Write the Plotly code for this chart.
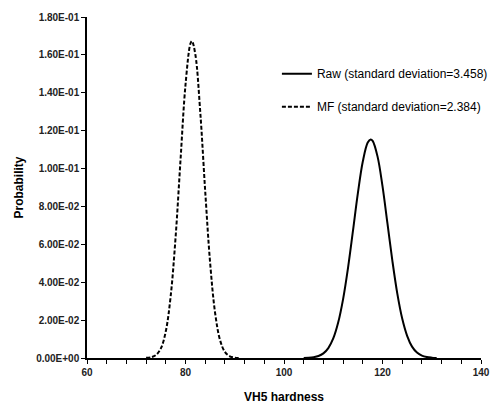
import plotly.graph_objects as go

# Raw curve
raw_x = [104, 105, 106, 107, 108, 109, 110, 111, 112, 113, 114, 115, 116, 117, 117.6,
         118, 119, 120, 121, 122, 123, 124, 125, 126, 127, 128, 129, 130, 131]
raw_y = [0.00005, 0.00015, 0.00042, 0.00105, 0.00245, 0.00523, 0.0103, 0.0187, 0.0311,
         0.0476, 0.0671, 0.0870, 0.1037, 0.1137, 0.1154, 0.1146, 0.1063, 0.0907, 0.0712,
         0.0514, 0.0341, 0.0208, 0.0117, 0.0060, 0.00287, 0.00125, 0.0005, 0.00019, 0.00006]

# MF curve
mf_x = [72, 73, 74, 75, 76, 77, 78, 79, 80, 81, 81.3, 82, 83, 84, 85, 86, 87, 88, 89, 90, 91]
mf_y = [0.00008, 0.00039, 0.00154, 0.00509, 0.0141, 0.0329, 0.0642, 0.1050, 0.1442, 0.1660,
        0.1673, 0.1602, 0.1297, 0.0881, 0.0502, 0.0240, 0.0096, 0.0032, 0.0009, 0.0002, 0.00004]

y_ticks = [0, 0.02, 0.04, 0.06, 0.08, 0.10, 0.12, 0.14, 0.16, 0.18]
y_labels = ["0.00E+00", "2.00E-02", "4.00E-02", "6.00E-02", "8.00E-02",
            "1.00E-01", "1.20E-01", "1.40E-01", "1.60E-01", "1.80E-01"]
x_ticks = [60, 80, 100, 120, 140]

fig = go.Figure()
fig.add_trace(go.Scatter(x=raw_x, y=raw_y, mode="lines", name="Raw (standard deviation=3.458)",
                         legendgroup="a",
                         line=dict(color="black", width=2, shape="spline")))
fig.add_trace(go.Scatter(x=mf_x, y=mf_y, mode="lines", name="MF (standard deviation=2.384)",
                         legendgroup="b",
                         line=dict(color="black", width=2, dash="4px,2px", shape="spline")))

fig.update_layout(
    width=490, height=402,
    margin=dict(l=79, r=17, t=9, b=52, autoexpand=False),
    paper_bgcolor="white", plot_bgcolor="white",
    font=dict(family="Liberation Sans, Arial", color="black"),
    legend=dict(x=0.482, y=0.876, xanchor="left", yanchor="top",
                font=dict(size=12, color="black"), tracegroupgap=14,
                bgcolor="rgba(0,0,0,0)"),
    xaxis=dict(range=[60, 140], tickvals=x_ticks, ticktext=["<b>%d</b>" % v for v in x_ticks],
               automargin=False,
               showgrid=False, zeroline=False, showline=True, linecolor="black", linewidth=1.5,
               ticks="outside", ticklen=4, tickcolor="black", tickwidth=1,
               minor=dict(dtick=4, ticks="outside", ticklen=4, tickcolor="black", tickwidth=1),
               tickfont=dict(size=10, color="#222"),
               title=dict(text="<b>VH5 hardness</b>", font=dict(size=12), standoff=16)),
    yaxis=dict(range=[0, 0.18], tickvals=y_ticks, ticktext=["<b>%s</b>" % s for s in y_labels],
               automargin=False,
               showgrid=False, zeroline=False, showline=True, linecolor="black", linewidth=1.5,
               ticks="outside", ticklen=4, tickcolor="black", tickwidth=1,
               tickfont=dict(size=10, color="#222"),
               title=dict(text="<b>Probability</b>", font=dict(size=12), standoff=10)),
)

fig.write_html("out.html")
